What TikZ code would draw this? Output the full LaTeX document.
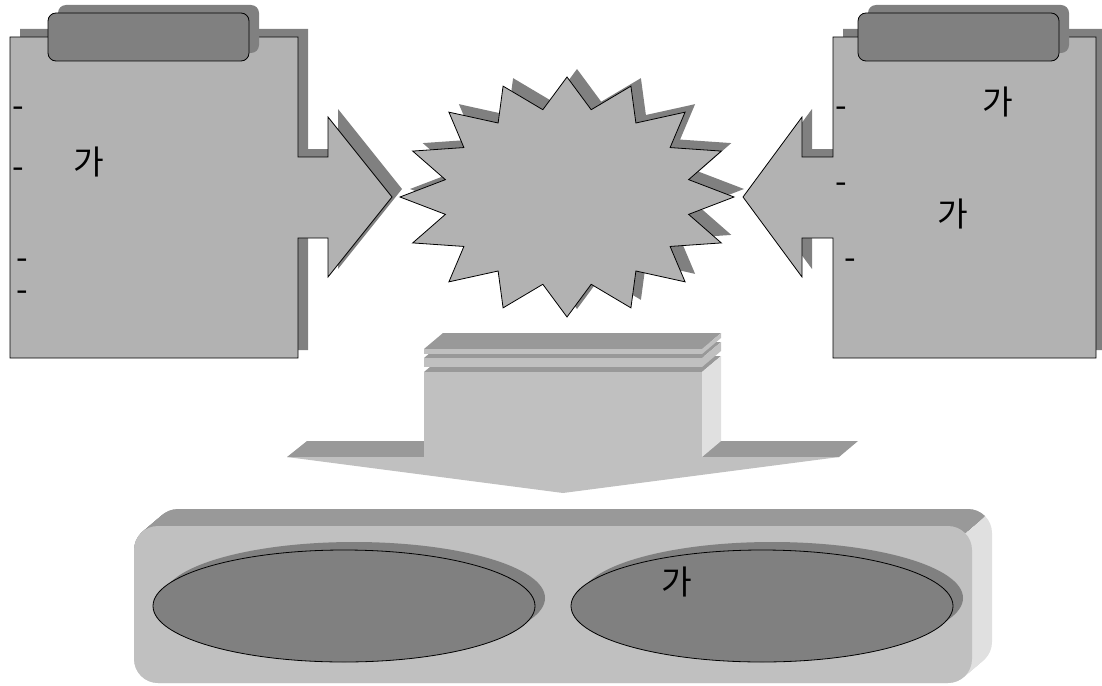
\documentclass[tikz,border=0pt]{standalone}
\usepackage{fontspec}
\newfontfamily\krfont{Noto Sans CJK KR}
\usetikzlibrary{positioning}
\definecolor{boardgray}{HTML}{B2B2B2}
\definecolor{shadowgray}{HTML}{808080}
\definecolor{topgray}{HTML}{999999}
\definecolor{frontgray}{HTML}{C0C0C0}
\definecolor{sidegray}{HTML}{E0E0E0}

\begin{document}
\begin{tikzpicture}[x=0.75pt, y=-0.75pt,
  drop/.style={fill=shadowgray, shift={(10,-8)}},
  board/.style={fill=boardgray, draw=black, line width=0.6pt},
  tabbox/.style={fill=shadowgray, draw=black, line width=0.6pt},
  disc/.style={fill=shadowgray, draw=black, line width=0.6pt},
  txt/.style={font=\krfont\fontsize{25}{30}\selectfont, inner sep=0pt,
    text height=0.8em, text depth=0.05em}]
\useasboundingbox (0,0) rectangle (1102,685);

% left clipboard with its arrow
\foreach \look in {drop,board}
  \path[\look] (10,37) -- (298,37) -- (298,157) -- (328,157) -- (328,117) -- (392,197)
    -- (328,277) -- (328,238) -- (298,238) -- (298,358) -- (10,358) -- cycle;
\foreach \look in {drop,tabbox}
  \path[\look, rounded corners=6pt] (48,13) rectangle (249,61);

% right clipboard with its arrow
\foreach \look in {drop,board}
  \path[\look] (1096,37) -- (833,37) -- (833,157) -- (802,157) -- (802,117) -- (743,197)
    -- (802,277) -- (802,238) -- (833,238) -- (833,358) -- (1096,358) -- cycle;
\foreach \look in {drop,tabbox}
  \path[\look, rounded corners=6pt] (858,13) rectangle (1059,61);

% burst in the middle
\foreach \look in {drop,board}
  \path[\look] (567,77) \foreach \i in {1,...,31}{
    -- ({567+(145.5+21.5*cos(180*\i))*cos(90+11.25*\i)},
        {197-(104.5+15.5*cos(180*\i))*sin(90+11.25*\i)}) } -- cycle;

% texts
\foreach \x/\y [count=\n] in {18/112, 18/173, 22/264, 22/296}
  \node[txt] (ldash\n) at (\x,\y) {-};
\node[txt] (lword) at (89,169) {가};
\foreach \x/\y [count=\n] in {841/112, 841/188, 850/264}
  \node[txt] (rdash\n) at (\x,\y) {-};
\node[txt] (rword1) at (998,109) {가};
\node[txt] (rword2) at (953,221) {가};

% flat block arrow and the stack of sheets
\fill[topgray] (287,457) -- (307,441) -- (858,441) -- (839,457) -- cycle;
\fill[frontgray] (287,457) -- (563,493) -- (839,457) -- cycle;
\foreach \top/\bot/\sidecol in {372/457/sidegray, 358/367/frontgray, 349/354/frontgray}{
  \fill[topgray] (424,\top) -- (443,\top-16) -- (721,\top-16) -- (702,\top) -- cycle;
  \fill[frontgray] (424,\top) rectangle (702,\bot);
  \fill[\sidecol] (702,\top) -- (721,\top-16) -- (721,\bot-16) -- (702,\bot) -- cycle;
}

% bottom tray
\foreach \k in {0,...,20}
  \fill[sidegray, rounded corners=18pt, shift={(\k,{-0.85*\k})}] (134,526) rectangle (972,683);
\begin{scope}
  \clip (120,490) -- (1010,490) -- (1010,495) -- (966,532) -- (900,588) -- (120,588) -- cycle;
  \foreach \k in {0,...,20}
    \fill[topgray, rounded corners=18pt, shift={(\k,{-0.85*\k})}] (134,526) rectangle (972,683);
\end{scope}
\fill[frontgray, rounded corners=18pt] (134,526) rectangle (972,683);
\foreach \look in {drop,disc}{
  \path[\look] (344,606) ellipse [x radius=191, y radius=56];
  \path[\look] (762,606) ellipse [x radius=191, y radius=56];
}
\node[txt] (bword) at (677,589) {가};
\end{tikzpicture}
\end{document}
